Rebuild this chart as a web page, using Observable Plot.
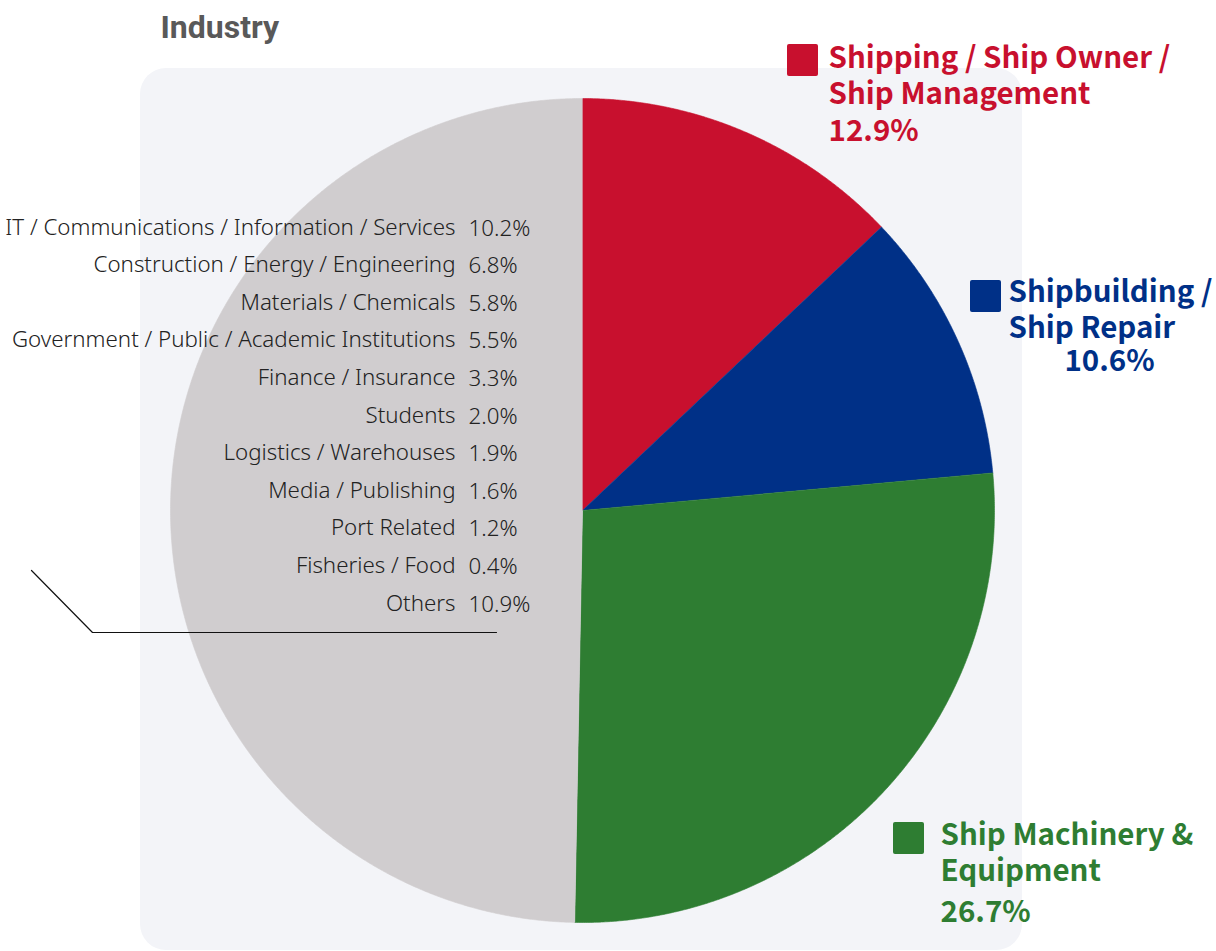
<!DOCTYPE html>
<html>
<head>
<meta charset="utf-8">
<script src="https://cdn.jsdelivr.net/npm/d3@7"></script>
<script src="https://cdn.jsdelivr.net/npm/@observablehq/plot@0.6"></script>
<style>
  html, body { margin: 0; padding: 0; background: #ffffff; }
  svg { display: block; }
</style>
</head>
<body>
<div id="chart"></div>
<script>
// ---- Data ----
const title = "Industry";
const mainCategories = ["Shipping / Ship Owner / Ship Management", "Shipbuilding / Ship Repair", "Ship Machinery & Equipment"];
const mainLabelLines = [["Shipping / Ship Owner /", "Ship Management"], ["Shipbuilding /", "Ship Repair"], ["Ship Machinery &", "Equipment"]];
const mainValues = [12.9, 10.6, 26.7];
const otherCategories = [
  "IT / Communications / Information / Services",
  "Construction / Energy / Engineering",
  "Materials / Chemicals",
  "Government / Public / Academic Institutions",
  "Finance / Insurance",
  "Students",
  "Logistics / Warehouses",
  "Media / Publishing",
  "Port Related",
  "Fisheries / Food",
  "Others"
];
const otherValues = [10.2, 6.8, 5.8, 5.5, 3.3, 2.0, 1.9, 1.6, 1.2, 0.4, 10.9];

// ---- Styles / layout ----
const W = 1216, H = 951;
const colors = ["#c8102e", "#003087", "#2e7d32", "#d0cdcf"];
const CX = 582, CY = 510, R = 412;
const jp = "'Noto Sans CJK JP', 'Noto Sans', sans-serif";
const listFont = "'Noto Sans', 'DejaVu Sans', sans-serif";
const fmt = v => v.toFixed(1) + "%";

// pie slices
const slices = mainCategories.map((c, i) => ({name: c, value: mainValues[i], color: colors[i]}));
slices.push({name: "Other industries", value: d3.sum(otherValues), color: colors[3]});
const arcs = d3.pie().sort(null).value(d => d.value)(slices);
function slicePoints(a) {
  const pts = [[CX, CY]];
  const n = Math.max(2, Math.ceil((a.endAngle - a.startAngle) / (Math.PI / 720)));
  for (let k = 0; k <= n; k++) {
    const t = a.startAngle + (a.endAngle - a.startAngle) * k / n;
    pts.push([CX + R * Math.sin(t), CY - R * Math.cos(t)]);
  }
  return pts;
}

// legend layout (main categories)
const legendPos = [
  {sx: 787, sy: 44, tx: 828, ty: 68, px: 828, py: 140, pAnchor: "start"},
  {sx: 970, sy: 280, tx: 1008, ty: 302, px: 1109, py: 370, pAnchor: "middle"},
  {sx: 893, sy: 822, tx: 940, ty: 845, px: 940, py: 921, pAnchor: "start"}
];
const legend = mainCategories.map((c, i) => ({...legendPos[i], lines: mainLabelLines[i], value: mainValues[i], color: colors[i]}));

// other list
const listY0 = 234, listStep = 37.6;
const others = otherCategories.map((c, i) => ({name: c, value: otherValues[i], y: listY0 + i * listStep}));

const legendFont = {fontSize: 29.5, fontWeight: "bold", fontFamily: jp, lineAnchor: "bottom"};
const listStyle = {fontSize: 22.3, fontWeight: 300, fill: "#222", fontFamily: listFont, lineAnchor: "bottom"};

const marks = [
  Plot.rect([0], {x1: () => 140, x2: () => 1022, y1: () => 68, y2: () => 950, rx: 26, fill: "#f3f4f8"}),
  ...arcs.map(a => Plot.line(slicePoints(a), {x: d => d[0], y: d => d[1], fill: a.data.color, stroke: a.data.color, strokeWidth: 0.6})),
  Plot.text([title], {x: () => 160, y: () => 37, text: d => d, textAnchor: "start", lineAnchor: "bottom", fontSize: 32, fontWeight: "bold", fill: "#595959", fontFamily: "Roboto, 'Noto Sans', sans-serif"}),
  Plot.rect(legend, {x1: d => d.sx, x2: d => d.sx + 31, y1: d => d.sy, y2: d => d.sy + 32, fill: d => d.color, rx: 2}),
  Plot.text(legend, {x: d => d.tx, y: d => d.ty + 35, text: d => d.lines.join("\n"), textAnchor: "start", lineHeight: 1.19, fill: d => d.color, ...legendFont}),
  Plot.text(legend.filter(d => d.pAnchor === "start"), {x: d => d.px, y: d => d.py, text: d => fmt(d.value), textAnchor: "start", fill: d => d.color, ...legendFont}),
  Plot.text(legend.filter(d => d.pAnchor === "middle"), {x: d => d.px, y: d => d.py, text: d => fmt(d.value), textAnchor: "middle", fill: d => d.color, ...legendFont}),
  Plot.text(others, {x: () => 455, y: d => d.y, text: d => d.name, textAnchor: "end", ...listStyle}),
  Plot.text(others, {x: () => 468, y: d => d.y + 1, text: d => fmt(d.value), textAnchor: "start", ...listStyle}),
  Plot.line([[31, 570], [92, 632], [496, 632]], {x: d => d[0], y: d => d[1], stroke: "#111", strokeWidth: 1.2})
];

const chart = Plot.plot({
  width: W, height: H, margin: 0,
  x: {domain: [0, W], range: [0, W], axis: null},
  y: {domain: [0, H], range: [0, H], axis: null},
  color: {type: "identity"},
  style: {background: "#ffffff", overflow: "visible"},
  marks
});
document.getElementById("chart").appendChild(chart);
</script>
</body>
</html>
